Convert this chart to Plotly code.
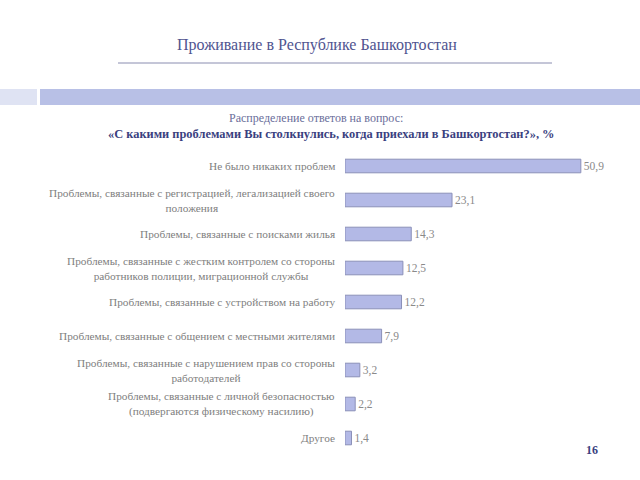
import plotly.graph_objects as go

categories = [
    "Не было никаких проблем",
    "Проблемы, связанные с регистрацией, легализацией своего<br>положения",
    "Проблемы, связанные с поисками жилья",
    "Проблемы, связанные с жестким контролем со стороны<br>работников полиции, миграционной службы",
    "Проблемы, связанные с устройством на работу",
    "Проблемы, связанные с общением с местными жителями",
    "Проблемы, связанные с нарушением прав со стороны<br>работодателей",
    "Проблемы, связанные с личной безопасностью<br>(подвергаются физическому насилию)",
    "Другое",
]
values = [50.9, 23.1, 14.3, 12.5, 12.2, 7.9, 3.2, 2.2, 1.4]
value_labels = [f"{v:.1f}".replace(".", ",") for v in values]

title_text = "Проживание в Республике Башкортостан"
subtitle_1 = "Распределение ответов на вопрос:"
subtitle_2 = "«С какими проблемами Вы столкнулись, когда приехали в Башкортостан?», %"
page_number = "16"

SERIF = "'Liberation Serif', 'DejaVu Serif', serif"
W, H = 640, 480

fig = go.Figure()
fig.add_trace(go.Bar(
    x=values,
    y=categories,
    orientation="h",
    marker=dict(color="#b3b9e6", line=dict(color="#8b90b8", width=1)),
    text=value_labels,
    textposition="outside",
    textfont=dict(family=SERIF, size=11.5, color="#8a8a8a"),
    cliponaxis=False,
    hoverinfo="skip",
))

annotations = []
for c in categories:
    annotations.append(dict(
        x=337 / W, xref="paper", y=c, yref="y",
        text=c, showarrow=False, xanchor="right", yanchor="middle",
        align="center",
        font=dict(family=SERIF, size=11.3, color="#808080"),
    ))

annotations += [
    dict(x=317 / W, y=1 - 45 / H, xref="paper", yref="paper", text=title_text,
         showarrow=False, xanchor="center", yanchor="middle",
         font=dict(family=SERIF, size=16, color="#4f5490")),
    dict(x=316 / W, y=1 - 118 / H, xref="paper", yref="paper", text=subtitle_1,
         showarrow=False, xanchor="center", yanchor="middle",
         font=dict(family=SERIF, size=12, color="#6a6e9a")),
    dict(x=331 / W, y=1 - 134 / H, xref="paper", yref="paper", text="<b>" + subtitle_2 + "</b>",
         showarrow=False, xanchor="center", yanchor="middle",
         font=dict(family=SERIF, size=12.4, color="#3a3f80")),
    dict(x=592 / W, y=1 - 450 / H, xref="paper", yref="paper", text="<b>" + page_number + "</b>",
         showarrow=False, xanchor="center", yanchor="middle",
         font=dict(family=SERIF, size=12, color="#3a3f80")),
]

shapes = [
    dict(type="line", xref="paper", yref="paper", x0=118 / W, x1=552 / W,
         y0=1 - 63 / H, y1=1 - 63 / H, line=dict(color="#8a8db0", width=1)),
    dict(type="rect", xref="paper", yref="paper", x0=0, x1=37 / W,
         y0=1 - 105 / H, y1=1 - 89 / H, fillcolor="#dfe3f3", line=dict(width=0), layer="below"),
    dict(type="rect", xref="paper", yref="paper", x0=40 / W, x1=1,
         y0=1 - 105 / H, y1=1 - 89 / H, fillcolor="#b8c0e6", line=dict(width=0), layer="below"),
]

fig.update_layout(
    width=W, height=H,
    margin=dict(l=0, r=0, t=0, b=0),
    paper_bgcolor="white", plot_bgcolor="white",
    showlegend=False,
    bargap=0.6,
    font=dict(family=SERIF),
    xaxis=dict(domain=[345 / W, 623 / W], range=[0, 60], visible=False, fixedrange=True),
    yaxis=dict(domain=[1 - 455 / H, 1 - 149 / H], autorange="reversed",
               showticklabels=False, showgrid=False, zeroline=False, showline=False,
               ticks="", fixedrange=True),
    annotations=annotations,
    shapes=shapes,
)

fig.write_html("out.html")
